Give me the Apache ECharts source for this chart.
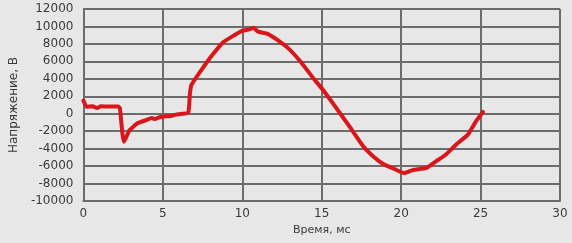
<!DOCTYPE html>
<html><head><meta charset="utf-8">
<script src="https://cdn.jsdelivr.net/npm/echarts@6/dist/echarts.min.js"></script>
<style>html,body{margin:0;padding:0;background:#e7e7e7}#c{width:572px;height:243px}</style>
</head><body><div id="c"></div>
<script>
const timeMs = [0, 0.05, 0.2, 0.6, 0.85, 1.1, 1.6, 2.2, 2.3, 2.45, 2.55, 2.9, 3.4, 4.0, 4.3, 4.5, 4.8, 5.2, 5.5, 5.8, 6.2, 6.6, 6.7, 6.8, 7.5, 8.1, 8.8, 9.5, 10.0, 10.5, 10.7, 11.0, 11.6, 12.25, 12.95, 13.7, 14.5, 15.05, 16.0, 16.8, 17.6, 18.25, 18.9, 19.6, 20.2, 20.75, 21.6, 22.2, 22.8, 23.45, 24.2, 24.7, 25.15];
const voltage = [1500, 1300, 800, 850, 650, 850, 820, 820, 600, -2200, -3200, -1900, -1100, -700, -500, -600, -400, -300, -250, -100, 0, 100, 2200, 3300, 5200, 6700, 8200, 9000, 9500, 9700, 9850, 9400, 9150, 8400, 7400, 5900, 4000, 2800, 450, -1600, -3700, -4900, -5800, -6350, -6800, -6450, -6200, -5450, -4700, -3550, -2400, -900, 200];
const xTicks = {min: 0, max: 30, interval: 5};
const yTicks = {min: -10000, max: 12000, interval: 2000};
const xName = 'Время, мс';
const yName = 'Напряжение, В';

const chart = echarts.init(document.getElementById('c'), null, {renderer: 'canvas'});
const font = 'DejaVu Sans';
const txt = '#3a3a3a';
const gridLine = {show: true, lineStyle: {color: '#6c6c6c', width: 2}};
chart.setOption({
  backgroundColor: '#e7e7e7',
  animation: false,
  grid: {left: 76, right: 12, top: 9, bottom: 42},
  xAxis: {
    type: 'value', min: xTicks.min, max: xTicks.max, interval: xTicks.interval,
    name: xName, nameLocation: 'middle', nameGap: 17,
    nameTextStyle: {fontFamily: font, fontSize: 11, color: txt},
    axisLine: {show: true, onZero: false, lineStyle: {color: '#6c6c6c', width: 2}},
    axisTick: {show: false},
    axisLabel: {fontFamily: font, fontSize: 12, color: txt, margin: 7, formatter: v => String(v)},
    splitLine: gridLine
  },
  yAxis: {
    type: 'value', min: yTicks.min, max: yTicks.max, interval: yTicks.interval,
    name: yName, nameLocation: 'middle', nameGap: 62, nameRotate: 90,
    nameTextStyle: {fontFamily: font, fontSize: 12, color: txt},
    axisLine: {show: true, lineStyle: {color: '#6c6c6c', width: 2}},
    axisTick: {show: false},
    axisLabel: {fontFamily: font, fontSize: 12, color: txt, margin: 10, formatter: v => String(v)},
    splitLine: gridLine
  },
  series: [{
    type: 'line',
    data: timeMs.map((t, i) => [t, voltage[i]]),
    showSymbol: false,
    smooth: 0.15,
    lineStyle: {color: '#d9161b', width: 4, cap: 'round', join: 'round'}
  }]
});
</script></body></html>
